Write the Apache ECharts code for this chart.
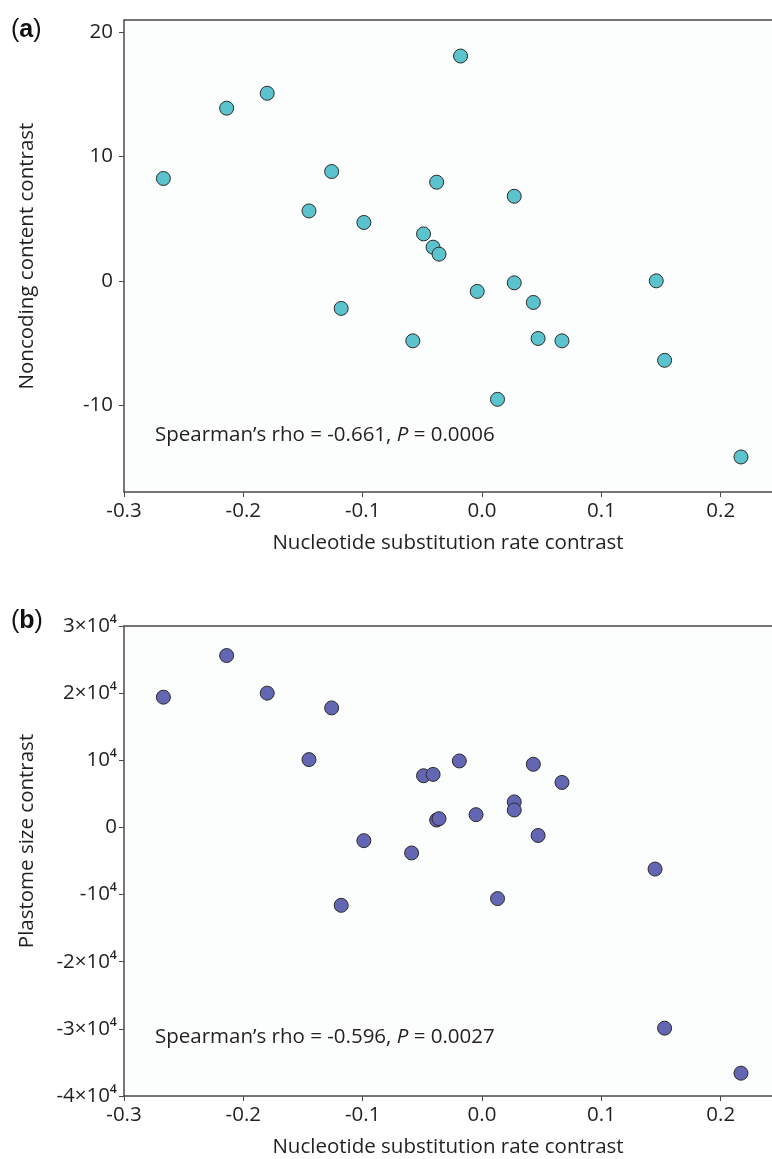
<!DOCTYPE html>
<html>
<head>
<meta charset="utf-8">
<script src="https://cdn.jsdelivr.net/npm/echarts@6/dist/echarts.min.js"></script>
<style>
html,body{margin:0;padding:0;background:#fff;}
#chart{width:772px;height:1159px;}
</style>
</head>
<body>
<div id="chart"></div>
<script>
// Nucleotide substitution rate contrast (shared x for both panels)
var rateContrast = [-0.267, -0.214, -0.180, -0.145, -0.126, -0.118, -0.099, -0.058, -0.049, -0.041, -0.038, -0.036, -0.018, -0.004, 0.013, 0.027, 0.027, 0.043, 0.047, 0.067, 0.146, 0.153, 0.217];
// Panel (a): Noncoding content contrast
var noncodingContrast = [8.24, 13.9, 15.1, 5.63, 8.8, -2.22, 4.70, -4.83, 3.78, 2.71, 7.94, 2.15, 18.1, -0.85, -9.54, 6.81, -0.16, -1.74, -4.64, -4.83, 0.0, -6.40, -14.18];
// Panel (b): Plastome size contrast (x-values for this panel)
var rateContrastB = [-0.267, -0.214, -0.180, -0.145, -0.126, -0.118, -0.099, -0.059, -0.049, -0.041, -0.038, -0.036, -0.019, -0.005, 0.013, 0.027, 0.027, 0.043, 0.047, 0.067, 0.145, 0.153, 0.217];
var plastomeContrast = [19400, 25600, 20000, 10100, 17800, -11600, -1970, -3800, 7700, 7900, 1100, 1300, 9900, 1900, -10600, 3800, 2600, 9400, -1200, 6700, -6200, -29900, -36600];

var xTicks = [-0.3, -0.2, -0.1, 0.0, 0.1, 0.2];
var yTicksA = [-10, 0, 10, 20];
var yTicksB = [-40000, -30000, -20000, -10000, 0, 10000, 20000, 30000];
var yTickLabelsB = ['-4×10⁴', '-3×10⁴', '-2×10⁴', '-10⁴', '0', '10⁴', '2×10⁴', '3×10⁴'];

var statsA = ['-0.661', '0.0006'];
var statsB = ['-0.596', '0.0027'];

var FONT = '"Open Sans", sans-serif';
var FS = 20.5;
var TXT = '#231f20';
var AX = '#4a4a4a';

function pairs(xs, ys) { return xs.map(function (x, i) { return [x, ys[i]]; }); }

function xAxisCfg(gi) {
  return {
    gridIndex: gi, type: 'value', min: -0.3, max: 0.243,
    name: 'Nucleotide substitution rate contrast', nameLocation: 'middle', nameGap: 41,
    nameTextStyle: { fontFamily: FONT, fontSize: FS, color: TXT },
    axisLine: { show: true, onZero: false, lineStyle: { color: AX, width: 1.5 } },
    axisTick: { show: true, length: 5, customValues: xTicks, lineStyle: { color: AX, width: 1 } },
    axisLabel: { customValues: xTicks, margin: 9, fontFamily: FONT, fontSize: FS, color: TXT,
      formatter: function (v) { return (Math.abs(v) < 1e-9 ? 0 : v).toFixed(1); } },
    splitLine: { show: false }
  };
}

function topLineCfg(gi) {
  return {
    gridIndex: gi, type: 'value', position: 'top', min: -0.3, max: 0.243,
    axisLine: { show: true, onZero: false, lineStyle: { color: AX, width: 1.5 } },
    axisTick: { show: false }, axisLabel: { show: false }, splitLine: { show: false }
  };
}

function statText(top, stats) {
  return {
    type: 'text', left: 155, top: top,
    style: {
      text: '{n|Spearman’s rho = ' + stats[0] + ', }{i|P}{n| = ' + stats[1] + '}',
      rich: {
        n: { fontFamily: FONT, fontSize: FS, fill: TXT },
        i: { fontFamily: FONT, fontSize: FS, fill: TXT, fontStyle: 'italic' }
      }
    }
  };
}

function panelLabel(top, letter) {
  return {
    type: 'text', left: 11, top: top,
    style: {
      text: '{p|(}{b|' + letter + '}{p|)}',
      rich: {
        p: { fontFamily: '"Liberation Sans", Arial, sans-serif', fontSize: 25, fill: '#111' },
        b: { fontFamily: '"Liberation Sans", Arial, sans-serif', fontSize: 25, fontWeight: 'bold', fill: '#111' }
      }
    }
  };
}

var chart = echarts.init(document.getElementById('chart'), null, { renderer: 'canvas' });
chart.setOption({
  backgroundColor: '#ffffff',
  animation: false,
  grid: [
    { left: 124, top: 20, right: 0, height: 472, show: true, backgroundColor: '#fcfefe', borderWidth: 0 },
    { left: 124, top: 626, right: 0, height: 472, show: true, backgroundColor: '#fcfefe', borderWidth: 0 }
  ],
  xAxis: [xAxisCfg(0), xAxisCfg(1), topLineCfg(0), topLineCfg(1)],
  yAxis: [
    {
      gridIndex: 0, type: 'value', min: -17, max: 21,
      name: 'Noncoding content contrast', nameLocation: 'middle', nameGap: 86, nameRotate: 90,
      nameTextStyle: { fontFamily: FONT, fontSize: FS, color: TXT },
      axisLine: { show: true, onZero: false, lineStyle: { color: AX, width: 1.5 } },
      axisTick: { show: true, length: 5, customValues: yTicksA, lineStyle: { color: AX, width: 1 } },
      axisLabel: { customValues: yTicksA, margin: 11, fontFamily: FONT, fontSize: FS, color: TXT },
      splitLine: { show: false }
    },
    {
      gridIndex: 1, type: 'value', min: -40000, max: 30000, interval: 10000,
      name: 'Plastome size contrast', nameLocation: 'middle', nameGap: 86, nameRotate: 90,
      nameTextStyle: { fontFamily: FONT, fontSize: FS, color: TXT, padding: [0, 0, 0, 40] },
      axisLine: { show: true, onZero: false, lineStyle: { color: AX, width: 1.5 } },
      axisTick: { show: true, length: 5, lineStyle: { color: AX, width: 1 } },
      axisLabel: { margin: 7, fontFamily: FONT, fontSize: FS, color: TXT,
        formatter: function (v) { var i = yTicksB.indexOf(v); return i >= 0 ? yTickLabelsB[i] : ''; } },
      splitLine: { show: false }
    }
  ],
  series: [
    {
      type: 'scatter', xAxisIndex: 0, yAxisIndex: 0, data: pairs(rateContrast, noncodingContrast),
      symbol: 'circle', symbolSize: 14,
      itemStyle: { color: '#5bc3cd', borderColor: '#2b2b2b', borderWidth: 1, opacity: 1 }
    },
    {
      type: 'scatter', xAxisIndex: 1, yAxisIndex: 1, data: pairs(rateContrastB, plastomeContrast),
      symbol: 'circle', symbolSize: 14,
      itemStyle: { color: '#6366b3', borderColor: '#2b2b2b', borderWidth: 1, opacity: 1 }
    }
  ],
  graphic: [
    statText(425, statsA),
    statText(1027, statsB),
    panelLabel(18, 'a'),
    panelLabel(609, 'b')
  ]
});
</script>
</body>
</html>
